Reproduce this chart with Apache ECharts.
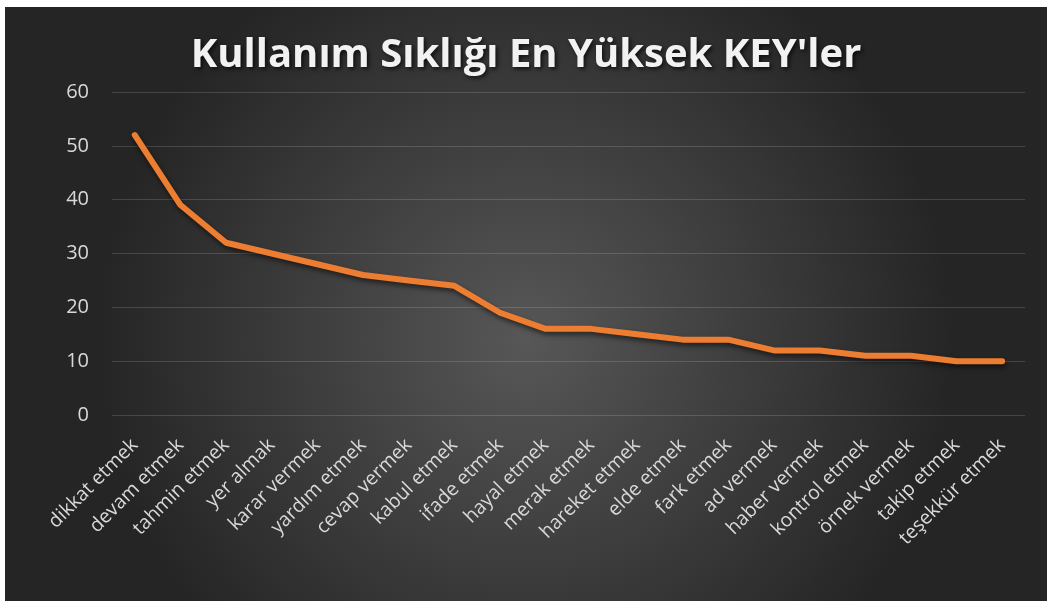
<!DOCTYPE html>
<html>
<head>
<meta charset="utf-8">
<script src="https://cdn.jsdelivr.net/npm/echarts@6/dist/echarts.min.js"></script>
<style>
  html, body { margin: 0; padding: 0; background: #fff; }
  #chart { position: absolute; left: 5px; top: 7px; width: 1042px; height: 594px; }
</style>
</head>
<body>
<div id="chart"></div>
<script>
// most used KEY phrases
let categories = ["dikkat etmek", "devam etmek", "tahmin etmek", "yer almak", "karar vermek",
  "yardım etmek", "cevap vermek", "kabul etmek", "ifade etmek", "hayal etmek",
  "merak etmek", "hareket etmek", "elde etmek", "fark etmek", "ad vermek",
  "haber vermek", "kontrol etmek", "örnek vermek", "takip etmek", "teşekkür etmek"];
let counts = [52, 39, 32, 30, 28, 26, 25, 24, 19, 16, 16, 15, 14, 14, 12, 12, 11, 11, 10, 10];
let yTicks = [0, 10, 20, 30, 40, 50, 60];

let chartDom = document.getElementById("chart");
let chart = echarts.init(chartDom);

let option = {
    backgroundColor: {
        type: "radial", x: 0.5, y: 0.56, r: 0.72,
        colorStops: [
            { offset: 0, color: "#575757" },
            { offset: 1, color: "#252525" }
        ]
    },
    title: {
        text: "Kullanım Sıklığı En Yüksek KEY'ler",
        left: "center",
        top: 24,
        textStyle: {
            fontFamily: "Open Sans",
            fontWeight: "bold",
            fontSize: 40,
            color: "#f2f2f2",
            textShadowColor: "rgba(0,0,0,0.7)",
            textShadowBlur: 4,
            textShadowOffsetX: 2,
            textShadowOffsetY: 2
        }
    },
    grid: { left: 107, right: 22, top: 85, bottom: 186 },
    xAxis: {
        type: "category",
        data: categories,
        boundaryGap: true,
        axisLine: { show: false },
        axisTick: { show: false },
        axisLabel: {
            rotate: 45,
            interval: 0,
            margin: 27,
            color: "#d9d9d9",
            fontFamily: "Open Sans",
            fontSize: 19.5
        }
    },
    yAxis: {
        type: "value",
        min: yTicks[0],
        max: yTicks[yTicks.length - 1],
        interval: 10,
        axisLine: { show: false },
        axisTick: { show: false },
        axisLabel: {
            margin: 23,
            color: "#d9d9d9",
            fontFamily: "Open Sans",
            fontSize: 20
        },
        splitLine: { lineStyle: { color: "rgba(255,255,255,0.15)", width: 1 } }
    },
    series: [{
        type: "line",
        data: counts,
        symbol: "none",
        lineStyle: {
            color: "#ED7D31",
            width: 6,
            cap: "round",
            join: "round",
            shadowColor: "rgba(0,0,0,0.55)",
            shadowBlur: 5,
            shadowOffsetX: 1,
            shadowOffsetY: 3
        },
        animation: false
    }],
    animation: false
};

chart.setOption(option);
window.onresize = function() {
    chart.resize();
};
</script>
</body>
</html>
